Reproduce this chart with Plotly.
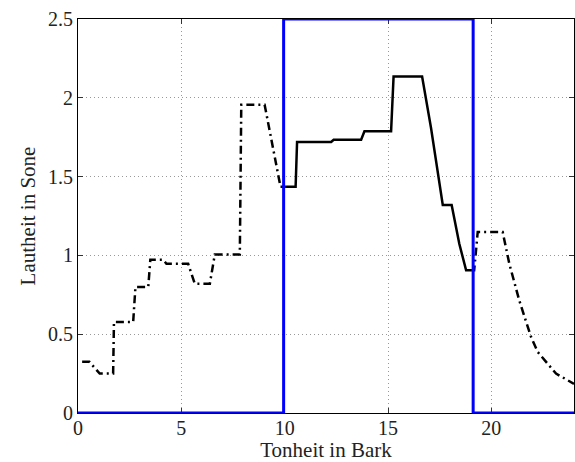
import plotly.graph_objects as go

# Loudness curve (Bark vs Sone)
bark_left = [0.2, 0.55, 1.05, 1.7, 1.74, 2.67, 2.78, 3.4, 3.5, 4.12, 4.28, 5.33, 5.65, 6.38, 6.62, 7.83, 7.9, 9.03, 9.8]
sone_left = [0.325, 0.325, 0.25, 0.25, 0.578, 0.578, 0.80, 0.80, 0.973, 0.973, 0.947, 0.947, 0.82, 0.82, 1.006, 1.006, 1.956, 1.956, 1.435]

bark_mid = [9.8, 10.53, 10.6, 12.25, 12.37, 13.7, 13.86, 15.15, 15.27, 16.65, 17.08, 17.65, 18.08, 18.45, 18.78, 19.02]
sone_mid = [1.435, 1.435, 1.72, 1.72, 1.734, 1.734, 1.787, 1.787, 2.135, 2.135, 1.81, 1.32, 1.32, 1.074, 0.905, 0.905]

bark_right = [19.02, 19.17, 19.34, 20.55, 20.87, 21.35, 21.92, 22.24, 23.13, 23.85, 24.0]
sone_right = [0.905, 0.905, 1.148, 1.148, 0.947, 0.715, 0.483, 0.388, 0.25, 0.198, 0.185]

# Blue band (rectangular window)
band_x = [0, 9.95, 9.95, 19.12, 19.12, 24]
band_y = [0, 0, 2.5, 2.5, 0, 0]

font = "Liberation Serif"
dashdot = "8px,4px,2px,4px"
griddot = "1px,3px"

fig = go.Figure()
fig.add_trace(go.Scatter(x=bark_left, y=sone_left, mode="lines",
                         line=dict(color="black", width=2.5, dash=dashdot)))
fig.add_trace(go.Scatter(x=bark_mid, y=sone_mid, mode="lines",
                         line=dict(color="black", width=2.5)))
fig.add_trace(go.Scatter(x=bark_right, y=sone_right, mode="lines",
                         line=dict(color="black", width=2.5, dash=dashdot)))
fig.add_trace(go.Scatter(x=band_x, y=band_y, mode="lines",
                         line=dict(color="#0000ff", width=3)))

fig.update_layout(
    width=575, height=462,
    margin=dict(l=78, r=1, t=19, b=49, autoexpand=False),
    paper_bgcolor="white", plot_bgcolor="white",
    showlegend=False,
    font=dict(family=font, size=20, color="#222"),
)
fig.update_xaxes(
    range=[0, 24], tickvals=[0, 5, 10, 15, 20], automargin=False,
    showline=True, linecolor="black", linewidth=1, mirror="allticks",
    ticks="inside", ticklen=5, tickcolor="#333", ticklabelstandoff=-3,
    showgrid=True, gridcolor="#999", griddash=griddot, gridwidth=1,
    zeroline=False, layer="below traces",
    title=dict(text="Tonheit in Bark", standoff=4, font=dict(family=font, size=21)),
)
fig.update_yaxes(
    range=[0, 2.5], tickvals=[0, 0.5, 1, 1.5, 2, 2.5], automargin=False,
    ticktext=["0", "0.5", "1", "1.5", "2", "2.5"],
    showline=True, linecolor="black", linewidth=1, mirror="allticks",
    ticks="inside", ticklen=5, tickcolor="#333",
    showgrid=True, gridcolor="#999", griddash=griddot, gridwidth=1,
    zeroline=False, layer="below traces",
    title=dict(text="Lautheit in Sone", standoff=6, font=dict(family=font, size=21)),
)

fig.write_html("out.html", config={"displayModeBar": False},
               post_script="document.body.style.margin='0';document.body.style.overflow='hidden';")
